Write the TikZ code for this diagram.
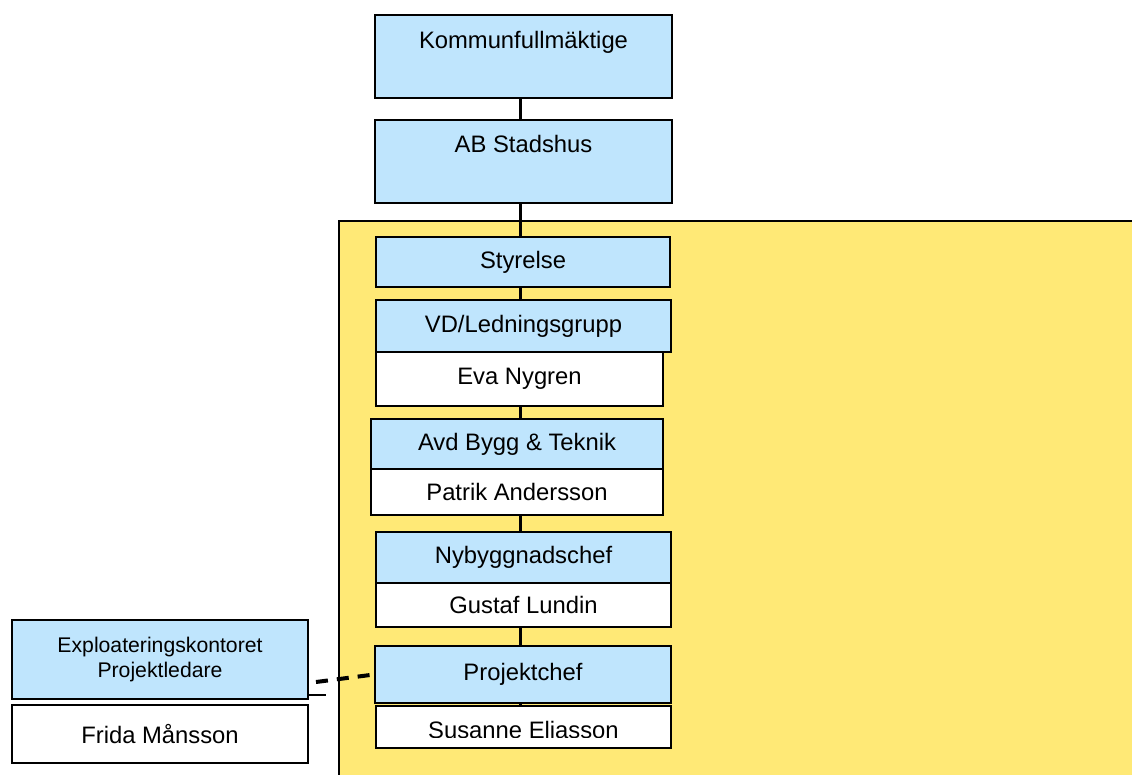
\documentclass[tikz,border=0pt]{standalone}
\usepackage{fontspec}
\setmainfont{Liberation Sans}
\usepackage{tikz}
\usetikzlibrary{positioning,calc}

\definecolor{boxblue}{RGB}{191,229,253}
\definecolor{areayellow}{RGB}{255,233,118}

\begin{document}
\begin{tikzpicture}[x=1pt, y=-1pt,
    bluebox/.style={rectangle, draw, line width=2pt, fill=boxblue, inner sep=0pt, align=center, font=\fontsize{23.8}{28}\selectfont},
    namebox/.style={bluebox, fill=white},
    topbox/.style={bluebox, text height=33pt, text depth=50pt},
    link/.style={line width=3pt},
    dashlink/.style={line width=4pt, dash pattern=on 12pt off 9pt}]

    \useasboundingbox (0,0) rectangle (1132,774);
    \clip (0,0) rectangle (1132,774);

    % Company area
    \draw[line width=2pt, fill=areayellow] (339,221) rectangle (1150,790);

    % Top level
    \node[topbox, minimum width=297pt, minimum height=83pt] (kf) at (523.5,56.5) {Kommunfullmäktige};
    \node[topbox, minimum width=297pt, minimum height=82pt] (ab) at (523.5,161) {AB Stadshus};

    % Company
    \node[bluebox, minimum width=294pt, minimum height=50pt] (styrelse) at (523,262) {Styrelse};
    \node[namebox, minimum width=287pt, minimum height=54pt] (eva) at (519.5,379) {Eva Nygren};
    \node[bluebox, minimum width=295pt, minimum height=52pt] (vd) at (523.5,326) {VD/Ledningsgrupp};
    \node[namebox, minimum width=292pt, minimum height=46pt] (patrik) at (517,492) {Patrik Andersson};
    \node[bluebox, minimum width=292pt, minimum height=50pt] (avd) at (517,444) {Avd Bygg \& Teknik};
    \node[namebox, minimum width=295pt, minimum height=44pt] (gustaf) at (523.5,605) {Gustaf Lundin};
    \node[bluebox, minimum width=295pt, minimum height=51pt] (nybygg) at (523.5,557.5) {Nybyggnadschef};
    \node[namebox, minimum width=295pt, minimum height=42pt] (susanne) at (523.5,727) {};
    \node[bluebox, minimum width=296pt, minimum height=57pt] (projchef) at (523,674.5) {Projektchef};
    \begin{scope}
        \clip (376,700) rectangle (671,737);
        \node[font=\fontsize{23.8}{28}\selectfont, inner sep=0pt] (susname) at (523.5,730) {Susanne Eliasson};
    \end{scope}

    % Exploatering
    \node[bluebox, minimum width=296pt, minimum height=79pt, font=\fontsize{21.2}{25}\selectfont] (expl) at (160,659.5) {Exploateringskontoret\\Projektledare};
    \node[namebox, minimum width=296pt, minimum height=58pt] (frida) at (160,734) {Frida Månsson};

    % Connect boxes
    \coordinate (spine) at (520,0);
    \draw[link] (kf.south -| spine) -- (ab.north -| spine);
    \draw[link] (ab.south -| spine) -- (styrelse.north -| spine);
    \draw[link] (styrelse.south -| spine) -- (vd.north -| spine);
    \draw[link] (eva.south -| spine) -- (avd.north -| spine);
    \draw[link] (patrik.south -| spine) -- (nybygg.north -| spine);
    \draw[link] (gustaf.south -| spine) -- (projchef.north -| spine);
    \draw[link] (projchef.south -| spine) -- (susanne.north -| spine);

    % Dashed link to Exploatering
    \coordinate (stub) at (326,695);
    \coordinate (dashstart) at (316,682);
    \draw[line width=2pt] (expl.east |- stub) -- (stub);
    \draw[dashlink] (dashstart) -- (projchef.west);
\end{tikzpicture}
\end{document}
